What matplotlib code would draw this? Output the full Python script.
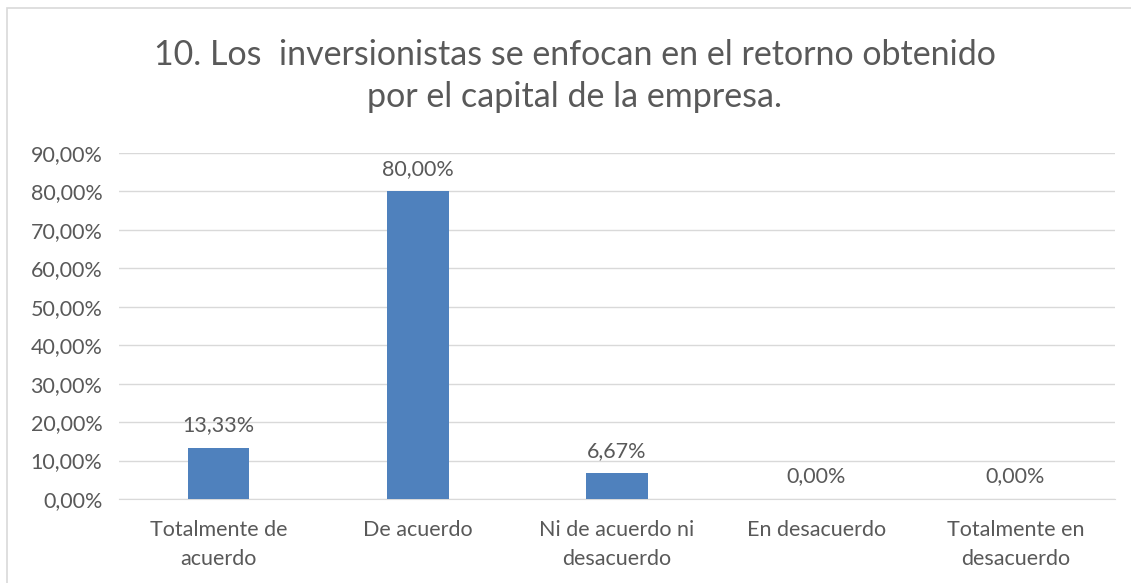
import matplotlib
matplotlib.use("Agg")
import matplotlib.pyplot as plt
from matplotlib.patches import Rectangle
from matplotlib.ticker import FuncFormatter

categories = ["Totalmente de\nacuerdo", "De acuerdo", "Ni de acuerdo ni\ndesacuerdo",
              "En desacuerdo", "Totalmente en\ndesacuerdo"]
values = [0.1333, 0.80, 0.0667, 0.0, 0.0]
value_labels = ["13,33%", "80,00%", "6,67%", "0,00%", "0,00%"]
title = "10. Los  inversionistas se enfocan en el retorno obtenido\npor el capital de la empresa."

plt.rcParams['font.family'] = ['Lato', 'DejaVu Sans']
txt = "#595959"
fs = 15.5

fig = plt.figure(figsize=(11.31, 5.83), dpi=100)
fig.patches.append(Rectangle((7/1131, -0.1), 1.2, 1 - 8/583 + 0.1, transform=fig.transFigure,
                             fill=False, edgecolor="#D9D9D9", linewidth=1.2))
ax = fig.add_axes([119/1131, 1 - 499/583, (1115 - 119)/1131, (499 - 153)/583])

x = list(range(len(categories)))
ax.bar(x, values, width=0.31, color="#4F81BD", zorder=3)
for xi, v, lab in zip(x, values, value_labels):
    ax.annotate(lab, (xi, v), xytext=(0, 9), textcoords="offset points",
                ha="center", va="bottom", fontsize=fs, color=txt)

ax.set_xlim(-0.5, len(categories) - 0.5)
ax.set_ylim(0, 0.9)
ax.set_yticks([i / 10 for i in range(10)])
ax.yaxis.set_major_formatter(FuncFormatter(lambda v, p: f"{v*100:.2f}%".replace(".", ",")))
ax.set_xticks(x)
ax.set_xticklabels(categories, fontsize=fs, color=txt, linespacing=1.6)
ax.tick_params(axis="y", labelsize=fs, labelcolor=txt, length=0, pad=12)
ax.tick_params(axis="x", length=0, pad=15)
ax.grid(axis="y", color="#D9D9D9", linewidth=1, zorder=0)
for s in ["top", "right", "left"]:
    ax.spines[s].set_visible(False)
ax.spines["bottom"].set_color("#D9D9D9")

fig.text(0.508, 1 - 76/583, title, ha="center", va="center", fontsize=24.5,
         color=txt, linespacing=1.35)

fig.savefig("out.png", dpi=100, facecolor="white")
